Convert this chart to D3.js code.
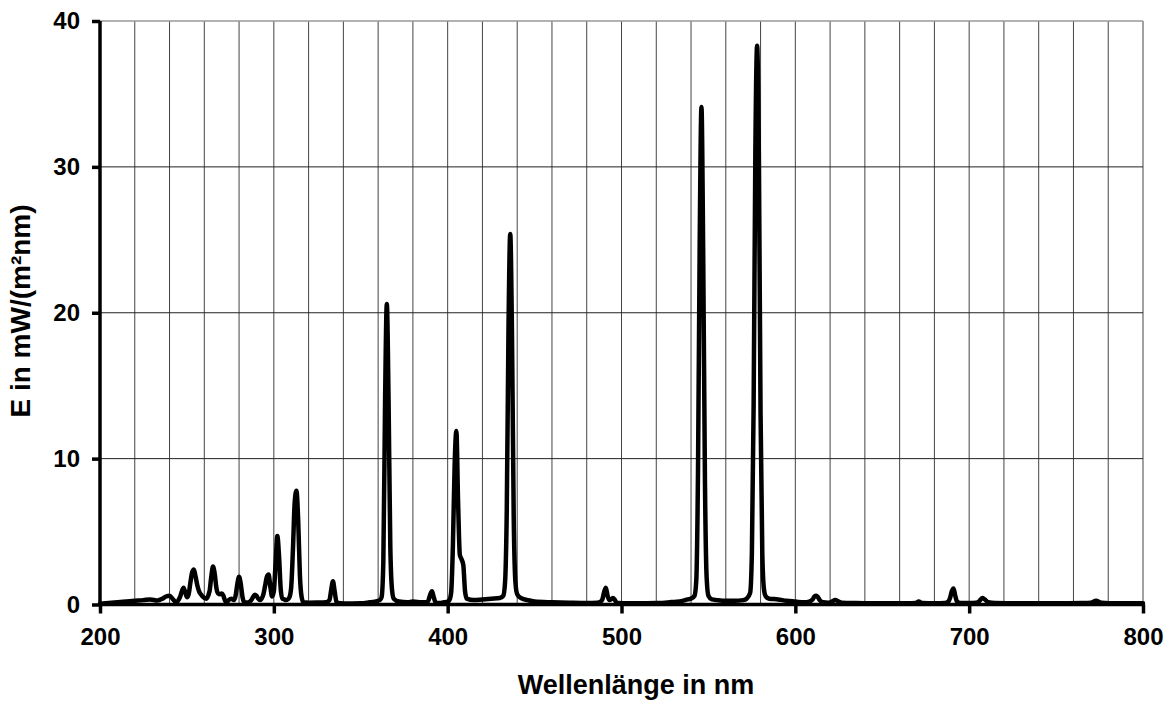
<!DOCTYPE html>
<html>
<head>
<meta charset="utf-8">
<script src="https://cdn.jsdelivr.net/npm/d3@7"></script>
<style>
  html, body { margin: 0; padding: 0; background: #fff; }
  svg { display: block; }
  text { font-family: "Liberation Sans", Arial, sans-serif; font-weight: bold; fill: #000; }
</style>
</head>
<body>
<svg id="chart" width="1170" height="703"></svg>
<script>
// ---- data ----
const wavelength = [200,205,210,215,220,225,229,233,236,238,240,242,244,246,248,249,250,251,252,253,254,255,256,257,258,259,261,263,264,265,266,267,268,269,270,271,272,273,274,275.5,277,278,279,280,281,282,283,285,287,288,289,290,291,292,293,294,295,296,297,298,299,300,301,302,303,304,305,306,307,308,309,310,311,312,313,314,315,316,317,320,325,330,332,333,334,335,336,337,340,345,350,355,358,361,362,363,364,365,366,367,368,369,372,377,380,385,388,389,390,391,392,393,395,398,400,401,402,403,404,405,406,407,408,409,410,411,415,420,425,430,432,433,434,435,436,437,438,439,440,442,446,450,460,470,480,486,488,489,490,491,492,493,494,495,496,497,498,505,510,520,525,530,535,538,540,542,543,544,545,546,547,548,549,550,552,555,560,565,570,572,574,575,576,577,578,579,580,581,582,583,585,590,595,600,605,608,610,611,612,613,614,616,619,621,623,625,627,635,650,665,669,671,673,680,686,688,689,690,691,692,693,695,700,704,706,707.5,709,711,715,730,750,765,770,773,776,785,800];
const irradiance = [0.05,0.1,0.15,0.2,0.25,0.3,0.35,0.27,0.4,0.55,0.6,0.35,0.15,0.5,1.15,0.85,0.5,0.7,1.5,2.2,2.4,1.9,1.3,0.9,0.7,0.55,0.4,0.9,1.9,2.6,2.1,1.1,0.75,0.7,0.75,0.6,0.25,0.17,0.3,0.4,0.3,0.6,1.4,1.9,1.4,0.5,0.15,0.13,0.3,0.5,0.67,0.6,0.4,0.3,0.4,0.7,1.3,1.9,2.05,1.2,0.55,0.9,2.8,4.7,3.3,1.0,0.4,0.35,0.3,0.35,0.5,1.2,3.8,7.0,7.8,5.8,2.0,0.5,0.15,0.12,0.13,0.15,0.3,1.0,1.6,0.9,0.2,0.1,0.07,0.07,0.08,0.15,0.2,0.3,0.5,3.0,14,20.6,14,4.0,1.0,0.4,0.2,0.15,0.2,0.15,0.15,0.3,0.7,0.9,0.5,0.15,0.1,0.15,0.2,0.3,0.8,4,9.5,11.9,7,3.4,3.1,2.7,0.9,0.4,0.3,0.35,0.4,0.45,0.6,1.5,6.5,19,25.4,18.5,6,1.5,0.7,0.45,0.3,0.2,0.15,0.12,0.1,0.12,0.2,0.35,0.85,1.15,0.6,0.3,0.35,0.45,0.35,0.15,0.1,0.08,0.08,0.1,0.12,0.18,0.25,0.35,0.4,0.6,1.6,9,25,34.1,24,8.5,1.8,0.6,0.35,0.3,0.25,0.25,0.3,0.4,0.8,3.5,13.5,31,38.3,31,13,3.5,1.0,0.55,0.4,0.35,0.25,0.2,0.15,0.2,0.35,0.55,0.6,0.5,0.3,0.15,0.12,0.2,0.3,0.2,0.12,0.1,0.08,0.08,0.1,0.2,0.1,0.08,0.1,0.2,0.45,0.9,1.1,0.6,0.2,0.1,0.1,0.12,0.25,0.45,0.35,0.15,0.1,0.08,0.08,0.1,0.12,0.25,0.12,0.08,0.08];
const xTicks = [200,300,400,500,600,700,800];
const yTicks = [0,10,20,30,40];
const xGrid = d3.range(220, 801, 20);
const yGrid = [10,20,30,40];
const xTitle = "Wellenlänge in nm";
const yTitle = "E in mW/(m²nm)";

// ---- layout ----
const svg = d3.select("#chart");
const mLeft = 100, mRight = 1143, mTop = 21, mBottom = 604.5;
const x = d3.scaleLinear().domain([200, 800]).range([mLeft, mRight]);
const y = d3.scaleLinear().domain([0, 40]).range([mBottom, mTop]);

// gridlines
svg.append("g").selectAll("line").data(xGrid).join("line")
  .attr("x1", d => x(d)).attr("x2", d => x(d))
  .attr("y1", mTop).attr("y2", mBottom)
  .attr("stroke", "#444").attr("stroke-width", 1);
svg.append("g").selectAll("line").data(yGrid).join("line")
  .attr("x1", mLeft).attr("x2", mRight)
  .attr("y1", d => y(d)).attr("y2", d => y(d))
  .attr("stroke", d => d === 40 ? "#999" : "#222").attr("stroke-width", d => d === 40 ? 1.5 : 1);

// axes
const xAxis = svg.append("g").attr("transform", `translate(0,${mBottom})`)
  .call(d3.axisBottom(x).tickValues(xTicks).tickSize(9).tickPadding(14).tickFormat(d3.format("d")));
const yAxis = svg.append("g").attr("transform", `translate(${mLeft},0)`)
  .call(d3.axisLeft(y).tickValues(yTicks).tickSize(8).tickPadding(12).tickFormat(d3.format("d")));
[xAxis, yAxis].forEach(a => {
  a.select(".domain").attr("stroke", "#000").attr("stroke-width", 3.5);
  a.selectAll(".tick line").attr("stroke", "#000").attr("stroke-width", 3.5);
  a.selectAll(".tick text").attr("font-size", 24).attr("font-weight", "bold")
    .attr("font-family", "'Liberation Sans', Arial, sans-serif").attr("fill", "#000");
});
xAxis.select(".domain").attr("d", `M${mLeft},0H${mRight}`);
yAxis.select(".domain").attr("d", `M0,${mBottom}V${mTop}`);

// data line
const pts = wavelength.map((w, i) => [w, irradiance[i]]);
const line = d3.line().x(d => x(d[0])).y(d => y(d[1])).curve(d3.curveMonotoneX);
svg.append("path").datum(pts)
  .attr("d", line)
  .attr("fill", "none").attr("stroke", "#000").attr("stroke-width", 4.5)
  .attr("stroke-linejoin", "round").attr("stroke-linecap", "round");

// titles
svg.append("text").attr("x", 636).attr("y", 694).attr("text-anchor", "middle")
  .attr("font-size", 27).text(xTitle);
svg.append("text").attr("transform", `translate(30,311) rotate(-90)`)
  .attr("text-anchor", "middle").attr("font-size", 28).text(yTitle);
</script>
</body>
</html>
